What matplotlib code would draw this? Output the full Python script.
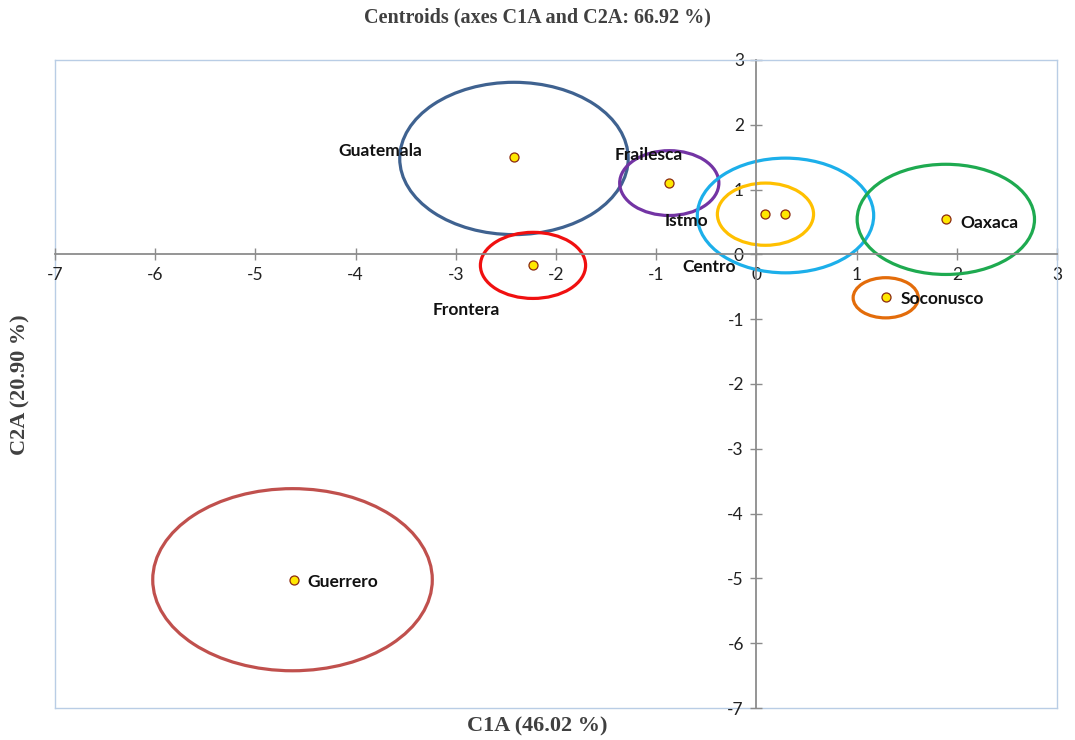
import matplotlib.pyplot as plt
from matplotlib.patches import Ellipse

plt.rcParams['axes.unicode_minus'] = False

# centroid coordinates on the first two axes
groups = ['Guatemala', 'Frailesca', 'Istmo', 'Centro', 'Oaxaca', 'Soconusco', 'Frontera', 'Guerrero']
c1 = [-2.42, -0.87, 0.09, 0.28, 1.89, 1.29, -2.23, -4.62]
c2 = [1.50, 1.10, 0.62, 0.62, 0.54, -0.66, -0.17, -5.02]

# confidence ellipses: centre, width, height
ell_x = [-2.42, -0.87, 0.09, 0.29, 1.89, 1.29, -2.23, -4.63]
ell_y = [1.48, 1.10, 0.62, 0.60, 0.54, -0.67, -0.17, -5.02]
ell_w = [2.28, 0.99, 0.96, 1.76, 1.77, 0.65, 1.05, 2.79]
ell_h = [2.35, 1.00, 0.96, 1.77, 1.70, 0.62, 1.02, 2.81]
ell_col = ['#3F6290', '#7334A4', '#FFC000', '#1CAFEA', '#1EAA50', '#E36C0A', '#F01010', '#C0504D']

# where each name is written
lab_x = [-3.75, -1.07, -0.70, -0.47, 2.04, 1.44, -2.90, -4.48]
lab_y = [1.60, 1.54, 0.51, -0.20, 0.49, -0.69, -0.86, -5.05]
lab_ha = ['center', 'center', 'center', 'center', 'left', 'left', 'center', 'left']

fig = plt.figure(figsize=(10.75, 7.4), dpi=100)
ax = fig.add_axes([0.0512, 0.0432, 0.9321, 0.8758])

for x, y, w, h, c in zip(ell_x, ell_y, ell_w, ell_h, ell_col):
    ax.add_patch(Ellipse((x, y), w, h, fill=False, edgecolor=c, linewidth=2.3, zorder=2))

ax.plot(c1, c2, 'o', color='#FFE800', markeredgecolor='#8B2A10', markeredgewidth=0.9,
        markersize=6.5, linestyle='none', zorder=3)

for name, x, y, ha in zip(groups, lab_x, lab_y, lab_ha):
    ax.text(x, y, name, ha=ha, va='center', fontsize=12.5, fontweight='bold',
            family='Lato', color='#111111', zorder=4)

ax.set_xlim(-7, 3)
ax.set_ylim(-7, 3)
ax.set_xticks(range(-7, 4))
ax.set_yticks(range(-7, 4))

# axis lines through the origin, plain frame around the plot area
for side in ['top', 'right']:
    ax.spines[side].set_color('#B9CDE5')
    ax.spines[side].set_linewidth(1.0)
ax.spines['left'].set_position(('data', 0))
ax.spines['bottom'].set_position(('data', 0))
ax.spines['left'].set_color('#8C8C8C')
ax.spines['bottom'].set_color('#8C8C8C')
ax.spines['left'].set_linewidth(1.3)
ax.spines['bottom'].set_linewidth(1.3)
ax.plot([-7, -7], [-7, 3], color='#B9CDE5', linewidth=1.0, clip_on=False, zorder=1)
ax.plot([-7, 3], [-7, -7], color='#B9CDE5', linewidth=1.0, clip_on=False, zorder=1)

ax.tick_params(direction='inout', length=8, width=1.0, color='#8C8C8C',
               labelsize=12.5, labelcolor='#222222', pad=5)
for lbl in ax.get_xticklabels() + ax.get_yticklabels():
    lbl.set_family('Lato')

fig.text(0.5, 0.976, 'Centroids (axes C1A and C2A: 66.92 %)', ha='center', va='center',
         fontsize=14.5, fontweight='bold', family='Liberation Serif', color='#404040')
fig.text(0.5, 0.018, 'C1A (46.02 %)', ha='center', va='center',
         fontsize=16, fontweight='bold', family='Liberation Serif', color='#404040')
fig.text(0.019, 0.48, 'C2A (20.90 %)', ha='center', va='center', rotation=90,
         fontsize=16, fontweight='bold', family='Liberation Serif', color='#404040')

fig.savefig('out.png', dpi=100)
